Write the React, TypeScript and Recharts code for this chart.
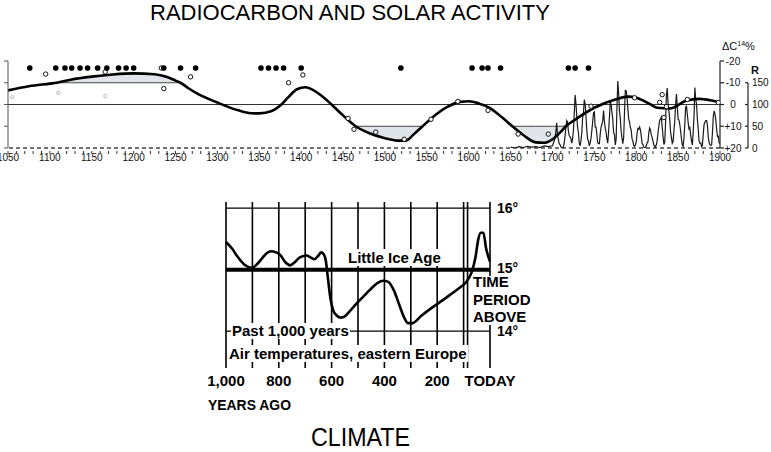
import React from 'react';
import { ComposedChart, LineChart, Line, Area, Scatter, XAxis, YAxis, ReferenceLine } from 'recharts';

// ---------- TOP CHART DATA ----------
const c14Years = [1050, 1075, 1100, 1108, 1125, 1150, 1175, 1200, 1225, 1240, 1250, 1256, 1265, 1275, 1300, 1325, 1340, 1350, 1365, 1375, 1385, 1395, 1405, 1415, 1425, 1450, 1465, 1480, 1500, 1515, 1525, 1535, 1545, 1555, 1575, 1590, 1600, 1612, 1625, 1640, 1652, 1665, 1680, 1690, 1700, 1710, 1716, 1725, 1750, 1775, 1790, 1800, 1815, 1825, 1840, 1860, 1875, 1890, 1900];
const c14Values = [-6.5, -8.4, -9.6, -10, -11.4, -12.8, -13.8, -14.3, -13.9, -12.6, -11.0, -10, -7.6, -5.2, -0.9, 2.7, 4.0, 4.1, 3.0, 0.5, -3.5, -7.0, -7.9, -6.5, -3.8, 5.0, 10, 13, 15.5, 16.6, 16.6, 13.5, 10, 6.5, 1.0, -1.2, -1.5, -0.5, 1.5, 6.0, 10, 14, 17.4, 17.6, 16.0, 12.5, 10, 7.5, 1.5, -2.3, -3.6, -3.1, -0.5, 1.5, 1.8, -1.8, -2.6, -1.8, -0.9];
const SHADE_LIMIT = 10;

const obsYears = [1095, 1166, 1233, 1236, 1268, 1385, 1402, 1456, 1463, 1489, 1523, 1555, 1587, 1623, 1659, 1695, 1746, 1798, 1828, 1831, 1833, 1836, 1861, 1898];
const obsValues = [-14, -15, -16.8, -7.3, -12.7, -10, -13.6, 6.4, 11.4, 12.7, 16, 6.8, -1.4, 2.7, 13.6, 13.6, 0.8, -3.1, -1, -4.5, 6, 1, -2.3, -0.9];
const faintYears = [1055, 1110, 1166];
const faintValues = [-3.4, -5.3, -3.9];

const auroraYears = [1076, 1107, 1118, 1126, 1136, 1145, 1157, 1168, 1182, 1191, 1200, 1236, 1256, 1274, 1352, 1361, 1370, 1379, 1400, 1519, 1604, 1616, 1623, 1638, 1719, 1727, 1743];
const AURORA_ROW = -16.8;

const earlySunYears = [1650, 1655, 1660, 1665, 1670, 1675, 1680, 1685, 1690, 1695];
const earlySunValues = [2, 0, 3, 1, 4, 2, 3, 1, 5, 3];
const SUN_START = 1700;
const sunValues = [
  5, 11, 16, 23, 36, 58, 29, 20, 10, 8,
  3, 0, 0, 2, 11, 27, 47, 63, 60, 39,
  28, 26, 22, 11, 21, 40, 78, 122, 103, 73,
  47, 35, 11, 5, 16, 34, 70, 81, 111, 101,
  73, 40, 20, 16, 5, 11, 22, 40, 60, 81,
  83, 48, 48, 31, 12, 10, 10, 32, 48, 54,
  63, 86, 61, 45, 36, 21, 11, 38, 70, 106,
  101, 82, 66, 35, 31, 7, 20, 92, 154, 126,
  85, 68, 38, 23, 10, 24, 83, 132, 131, 118,
  90, 67, 60, 47, 41, 21, 16, 6, 4, 7,
  14, 34, 45, 43, 48, 42, 28, 10, 8, 2,
  0, 1, 5, 12, 14, 35, 46, 41, 30, 24,
  16, 7, 4, 2, 8, 17, 36, 50, 64, 67,
  71, 48, 27, 8, 13, 57, 121, 138, 103, 86,
  65, 37, 24, 11, 15, 40, 61, 98, 124, 96,
  66, 64, 54, 39, 21, 7, 4, 23, 55, 94,
  96, 77, 59, 44, 47, 30, 16, 7, 37, 74,
  139, 111, 101, 66, 44, 17, 11, 12, 3, 6,
  32, 54, 59, 63, 63, 52, 25, 13, 7, 6,
  7, 36, 73, 85, 78, 64, 42, 26, 27, 12,
  9.5,
];

const dcTicks = [-20, -10, 0, 10, 20];
const rTicks = [0, 50, 100, 150];
const YEAR_MIN = 1050;
const YEAR_MAX = 1900;

// ---------- BOTTOM CHART DATA ----------
const tempYearsAgo = [1000, 975, 958, 930, 900, 880, 866, 845, 830, 810, 795, 775, 757, 740, 720, 695, 680, 665, 650, 640, 630, 622, 615, 605, 595, 580, 565, 550, 530, 505, 480, 455, 430, 405, 385, 365, 343, 325, 310, 295, 260, 217, 180, 142, 110, 90, 70, 55, 45, 35, 25, 15, 0];
const tempValues = [15.45, 15.33, 15.22, 15.08, 15.03, 15.1, 15.17, 15.27, 15.3, 15.28, 15.24, 15.12, 15.07, 15.12, 15.2, 15.23, 15.2, 15.17, 15.23, 15.28, 15.25, 15.15, 14.9, 14.55, 14.35, 14.25, 14.22, 14.24, 14.33, 14.45, 14.56, 14.67, 14.77, 14.82, 14.8, 14.67, 14.42, 14.22, 14.13, 14.13, 14.25, 14.39, 14.5, 14.62, 14.72, 14.8, 14.95, 15.2, 15.48, 15.6, 15.6, 15.35, 15.13];
const periodLines = [1000, 900, 800, 700, 600, 500, 400, 300, 200, 100, 85, 0];
const tempLevels = [14, 15, 16];
const agoTicks = [1000, 800, 600, 400, 200, 0];

// ---------- derived tables ----------
const c14Data = c14Years.map((year, i) => ({ year, dc: c14Values[i] }));
const shadeData = c14Years.map((year, i) => {
  const v = c14Values[i];
  let band: number[] | null = null;
  if (v <= -SHADE_LIMIT) band = [v, -SHADE_LIMIT];
  else if (v >= SHADE_LIMIT) band = [SHADE_LIMIT, v];
  return { year, band };
});
const obsData = obsYears.map((year, i) => ({ year, dc: obsValues[i] }));
const faintData = faintYears.map((year, i) => ({ year, dc: faintValues[i] }));
const auroraData = auroraYears.map((year) => ({ year, dc: AURORA_ROW }));
const sunData = [
  ...earlySunYears.map((year, i) => ({ year, r: earlySunValues[i] })),
  ...sunValues.map((r, i) => ({ year: SUN_START + i, r })),
];
const yearTicks: number[] = [];
for (let y = YEAR_MIN; y <= YEAR_MAX; y += 10) yearTicks.push(y);
const tempData = tempYearsAgo.map((ago, i) => ({ ago, t: tempValues[i] }));

// ---------- layout ----------
const FONT = '"Liberation Sans", Arial, Helvetica, sans-serif';
const TOP_H = 175;
const TOP_MARGIN = { top: 61, right: 0, bottom: 7, left: 7 };
const X_AXIS_H = 20;
const PLOT_H = TOP_H - TOP_MARGIN.top - TOP_MARGIN.bottom - X_AXIS_H;
const R_SEG = (PLOT_H * 50) / 200;

const YearTick = (props: any) => {
  const { x, y, payload } = props;
  const yr = payload.value;
  return (
    <g>
      <line x1={x} x2={x} y1={y + 3} y2={y + 6} stroke="#333" strokeWidth={1} />
      {yr % 50 === 0 && (
        <text x={x} y={y + 6} dy="0.71em" textAnchor="middle" fontSize={10} fontFamily={FONT} fill="#111">
          {yr}
        </text>
      )}
    </g>
  );
};

const DcTick = (props: any) => {
  const { x, y, payload } = props;
  const v = payload.value;
  const label = v > 0 ? `+${v}` : v < 0 ? `-${Math.abs(v)}` : '0';
  return (
    <text x={x + 7} y={y} dy="0.35em" textAnchor="middle" fontSize={10} fontFamily={FONT} fill="#111">
      {label}
    </text>
  );
};

const RTick = (props: any) => {
  const { x, y, payload } = props;
  const v = payload.value;
  return (
    <g>
      {v > 0 && <line x1={x + 2} x2={x + 2} y1={y} y2={y + R_SEG} stroke="#222" strokeWidth={1.2} />}
      <line x1={x - 1} x2={x + 2} y1={y} y2={y} stroke="#222" strokeWidth={1.2} />
      <text x={x + 6} y={y} dy="0.35em" textAnchor="start" fontSize={10} fontFamily={FONT} fill="#111">
        {v}
      </text>
    </g>
  );
};

const TempTick = (props: any) => {
  const { x, y, payload } = props;
  const v = payload.value;
  const shift = v === 15 ? -2 : 0;
  return (
    <text x={x} y={y + shift} dy="0.35em" textAnchor="start" fontSize={14} fontWeight={700} fontFamily={FONT} fill="#000">
      {`${v}°`}
    </text>
  );
};

const EmptyTick = () => <g />;

const OpenCircle = (props: any) => (
  <circle cx={props.cx} cy={props.cy} r={2.2} fill="#fff" stroke="#111" strokeWidth={1} />
);
const FaintCircle = (props: any) => (
  <circle cx={props.cx} cy={props.cy} r={1.6} fill="none" stroke="#aaa" strokeWidth={0.8} />
);
const BlackDot = (props: any) => <circle cx={props.cx} cy={props.cy} r={2.8} fill="#000" />;

const boldText = { fontFamily: FONT, fontWeight: 700, fontSize: 15, fill: '#000' } as const;

export default function App() {
  return (
    <div style={{ position: 'absolute', left: 0, top: 0, width: 771, height: 452, background: '#fff', overflow: 'hidden' }}>
      {/* TOP: Radiocarbon and solar activity */}
      <div style={{ position: 'absolute', left: 0, top: 0 }}>
        <ComposedChart width={771} height={TOP_H} margin={TOP_MARGIN}>
          <XAxis
            xAxisId="yr"
            type="number"
            dataKey="year"
            domain={[YEAR_MIN, YEAR_MAX]}
            allowDataOverflow
            ticks={yearTicks}
            interval={0}
            height={X_AXIS_H}
            axisLine={false}
            tickLine={false}
            tickSize={0}
            tickMargin={0}
            tick={<YearTick />}
          />
          <YAxis
            yAxisId="left"
            orientation="left"
            width={1}
            domain={[-20, 20]}
            reversed
            allowDataOverflow
            ticks={dcTicks}
            interval={0}
            tick={<EmptyTick />}
            tickSize={4}
            axisLine={{ stroke: '#555', strokeWidth: 1 }}
            tickLine={{ stroke: '#555', strokeWidth: 1 }}
          />
          <YAxis
            yAxisId="dc"
            orientation="right"
            width={26}
            domain={[-20, 20]}
            reversed
            allowDataOverflow
            ticks={dcTicks}
            interval={0}
            tickSize={4}
            tickMargin={2}
            tick={<DcTick />}
            axisLine={{ stroke: '#222', strokeWidth: 1.2 }}
            tickLine={{ stroke: '#222', strokeWidth: 1.2 }}
          />
          <YAxis
            yAxisId="r"
            orientation="right"
            width={25}
            domain={[0, 200]}
            allowDataOverflow
            ticks={rTicks}
            interval={0}
            tickSize={0}
            tickMargin={0}
            axisLine={false}
            tickLine={false}
            tick={<RTick />}
          />
          <Area
            xAxisId="yr"
            yAxisId="dc"
            data={shadeData}
            dataKey="band"
            type="monotone"
            fill="#dfe5ea"
            fillOpacity={1}
            stroke="#444"
            strokeWidth={1}
            connectNulls={false}
            dot={false}
            activeDot={false}
            isAnimationActive={false}
          />
          <ReferenceLine xAxisId="yr" yAxisId="left" y={0} stroke="#333" strokeWidth={1.2} />
          <ReferenceLine xAxisId="yr" yAxisId="dc" y={20} stroke="#444" strokeWidth={1.3} strokeDasharray="4 3" />
          <Line
            xAxisId="yr"
            yAxisId="r"
            data={sunData}
            dataKey="r"
            type="linear"
            stroke="#1a1a1a"
            strokeWidth={1.2}
            dot={false}
            activeDot={false}
            isAnimationActive={false}
          />
          <Line
            xAxisId="yr"
            yAxisId="dc"
            data={c14Data}
            dataKey="dc"
            type="monotone"
            stroke="#000"
            strokeWidth={2.6}
            dot={false}
            activeDot={false}
            isAnimationActive={false}
          />
          <Scatter xAxisId="yr" yAxisId="dc" data={faintData} dataKey="dc" shape={<FaintCircle />} isAnimationActive={false} />
          <Scatter xAxisId="yr" yAxisId="dc" data={obsData} dataKey="dc" shape={<OpenCircle />} isAnimationActive={false} />
          <Scatter xAxisId="yr" yAxisId="dc" data={auroraData} dataKey="dc" shape={<BlackDot />} isAnimationActive={false} />
        </ComposedChart>
      </div>

      {/* BOTTOM: Climate */}
      <div style={{ position: 'absolute', left: 0, top: 190 }}>
        <LineChart width={771} height={220} margin={{ top: 12, right: 241, bottom: 12, left: 226 }}>
          <XAxis
            type="number"
            dataKey="ago"
            domain={[0, 1000]}
            reversed
            ticks={agoTicks}
            interval={0}
            height={30}
            axisLine={false}
            tickLine={false}
            tickSize={0}
            tickMargin={7}
            tickFormatter={(v: number) => (v === 0 ? 'TODAY' : v.toLocaleString('en-US'))}
            tick={boldText}
          />
          <YAxis
            orientation="right"
            width={40}
            domain={[13.4, 16.1]}
            allowDataOverflow
            ticks={tempLevels}
            interval={0}
            axisLine={false}
            tickLine={false}
            tickSize={0}
            tickMargin={7}
            tick={<TempTick />}
          />
          {periodLines.map((p) => (
            <ReferenceLine key={`v${p}`} x={p} stroke="#000" strokeWidth={1.6} />
          ))}
          {tempLevels.map((t) => (
            <ReferenceLine key={`h${t}`} y={t} stroke="#000" strokeWidth={t === 15 ? 4 : 1.3} />
          ))}
          <Line
            data={tempData}
            dataKey="t"
            type="monotone"
            stroke="#000"
            strokeWidth={2.6}
            dot={false}
            activeDot={false}
            isAnimationActive={false}
          />
        </LineChart>
      </div>

      {/* Text overlay */}
      <svg width={771} height={452} style={{ position: 'absolute', left: 0, top: 0, pointerEvents: 'none' }}>
        <text x={150} y={20} fontSize={22} fontFamily={FONT} fill="#000" textLength={400} lengthAdjust="spacingAndGlyphs">
          RADIOCARBON AND SOLAR ACTIVITY
        </text>
        <text x={722} y={50} fontSize={11} fontFamily={FONT} fill="#111">
          ΔC<tspan fontSize={7} dy={-4}>14</tspan>
          <tspan dy={4}>%</tspan>
        </text>
        <text x={751} y={74} fontSize={11} fontWeight={700} fontFamily={FONT} fill="#111">R</text>

        <rect x={346} y={249} width={101} height={17} fill="#fff" />
        <text x={348} y={263} {...boldText}>Little Ice Age</text>

        <rect x={471} y={276} width={60} height={49} fill="#fff" />
        <text x={473} y={287} {...boldText}>TIME</text>
        <text x={473} y={304.5} {...boldText}>PERIOD</text>
        <text x={473} y={321.5} {...boldText}>ABOVE</text>

        <rect x={231} y={323} width={119} height={16} fill="#fff" />
        <text x={232} y={335.5} {...boldText}>Past 1,000 years</text>

        <rect x={227.5} y={345} width={241} height={17} fill="#fff" />
        <text x={229} y={358.5} {...boldText}>Air temperatures, eastern Europe</text>

        <text x={208} y={409.5} {...boldText} textLength={83} lengthAdjust="spacingAndGlyphs">YEARS AGO</text>

        <text x={311} y={446} fontSize={25} fontFamily={FONT} fill="#000" textLength={99} lengthAdjust="spacingAndGlyphs">
          CLIMATE
        </text>
      </svg>
    </div>
  );
}
